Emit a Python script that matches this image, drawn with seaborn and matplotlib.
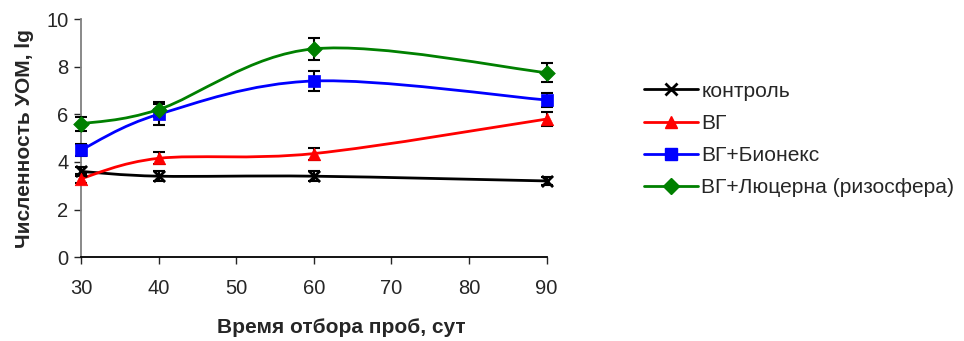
import numpy as np
import matplotlib
matplotlib.use("Agg")
import matplotlib.pyplot as plt
import seaborn as sns
from matplotlib.path import Path
from matplotlib.patches import PathPatch
from matplotlib.lines import Line2D

# data
days = [30, 40, 60, 90]
series_names = ["контроль", "ВГ", "ВГ+Бионекс", "ВГ+Люцерна (ризосфера)"]
control = [3.6, 3.4, 3.4, 3.2]
vg = [3.3, 4.15, 4.35, 5.8]
vg_bionex = [4.5, 6.0, 7.4, 6.6]
vg_lucerne = [5.6, 6.2, 8.75, 7.75]
control_err = [0.2, 0.2, 0.2, 0.15]
vg_err = [0.2, 0.25, 0.25, 0.3]
vg_bionex_err = [0.25, 0.45, 0.4, 0.3]
vg_lucerne_err = [0.3, 0.3, 0.45, 0.4]

colors = ["black", "#ff0000", "#0000ff", "#008000"]
markers = ["x", "^", "s", "D"]
msizes = [8, 9, 9, 8]

sns.set_style("white")
plt.rcParams['font.family'] = ['Liberation Sans', 'DejaVu Sans']

fig = plt.figure(figsize=(9.64, 3.41), dpi=100)
ax = fig.add_axes([0.084, 0.246, 0.483, 0.698])


def smooth_path(x, y):
    # Catmull-Rom -> cubic Bezier, like Excel's smoothed line
    pts = np.column_stack([x, y]).astype(float)
    ext = np.vstack([pts[0], pts, pts[-1]])
    verts = [pts[0]]
    codes = [Path.MOVETO]
    for i in range(1, len(ext) - 2):
        p0, p1, p2, p3 = ext[i - 1], ext[i], ext[i + 1], ext[i + 2]
        c1 = p1 + (p2 - p0) / 6.0
        c2 = p2 - (p3 - p1) / 6.0
        verts += [c1, c2, p2]
        codes += [Path.CURVE4] * 3
    return Path(verts, codes)


all_vals = [control, vg, vg_bionex, vg_lucerne]
all_err = [control_err, vg_err, vg_bionex_err, vg_lucerne_err]

for vals, err, c, m, ms, name in zip(all_vals, all_err, colors, markers, msizes, series_names):
    patch = PathPatch(smooth_path(days, vals), facecolor="none", edgecolor=c, lw=2, zorder=2)
    ax.add_patch(patch)
    ax.errorbar(days, vals, yerr=err, fmt="none", ecolor="black", elinewidth=1.5,
                capsize=4, capthick=1.5, zorder=3)
    sns.scatterplot(x=days, y=vals, marker=m, color=c, s=ms ** 2, ax=ax,
                    edgecolor=c if m != "x" else None, linewidth=2 if m == "x" else 0.5,
                    zorder=4, legend=False)

ax.set_xlim(30, 90)
ax.set_ylim(0, 10)
ax.set_xticks([30, 40, 50, 60, 70, 80, 90])
ax.set_yticks([0, 2, 4, 6, 8, 10])
ax.tick_params(axis="both", labelsize=14.5, direction="out", length=5, width=1,
               bottom=True, left=True, pad=4)
ax.tick_params(axis="x", pad=11)
for s in ["top", "right"]:
    ax.spines[s].set_visible(False)
ax.spines["left"].set_color("#808080")
ax.spines["left"].set_linewidth(1.3)
ax.spines["bottom"].set_color("black")
ax.spines["bottom"].set_linewidth(1.3)
for art in ax.get_children():
    try:
        art.set_clip_on(False)
    except Exception:
        pass

ax.set_xlabel("Время отбора проб, сут", fontsize=15, fontweight="bold", va="center")
ax.xaxis.set_label_coords(0.56, -0.294)
ax.set_ylabel("Численность УОМ, lg", fontsize=15, fontweight="bold", va="center")
ax.yaxis.set_label_coords(-0.122, 0.5)

handles = [Line2D([0], [0], color=c, lw=2, marker=m, markersize=ms,
                  markeredgewidth=2 if m == "x" else 1, markeredgecolor=c)
           for c, m, ms in zip(colors, markers, msizes)]
fig.legend(handles, series_names, loc="upper left", bbox_to_anchor=(0.659, 0.785),
           frameon=False, fontsize=15.1, handlelength=2.6, labelspacing=0.63,
           handletextpad=0.15, borderaxespad=0)

fig.savefig("out.png", dpi=100)
